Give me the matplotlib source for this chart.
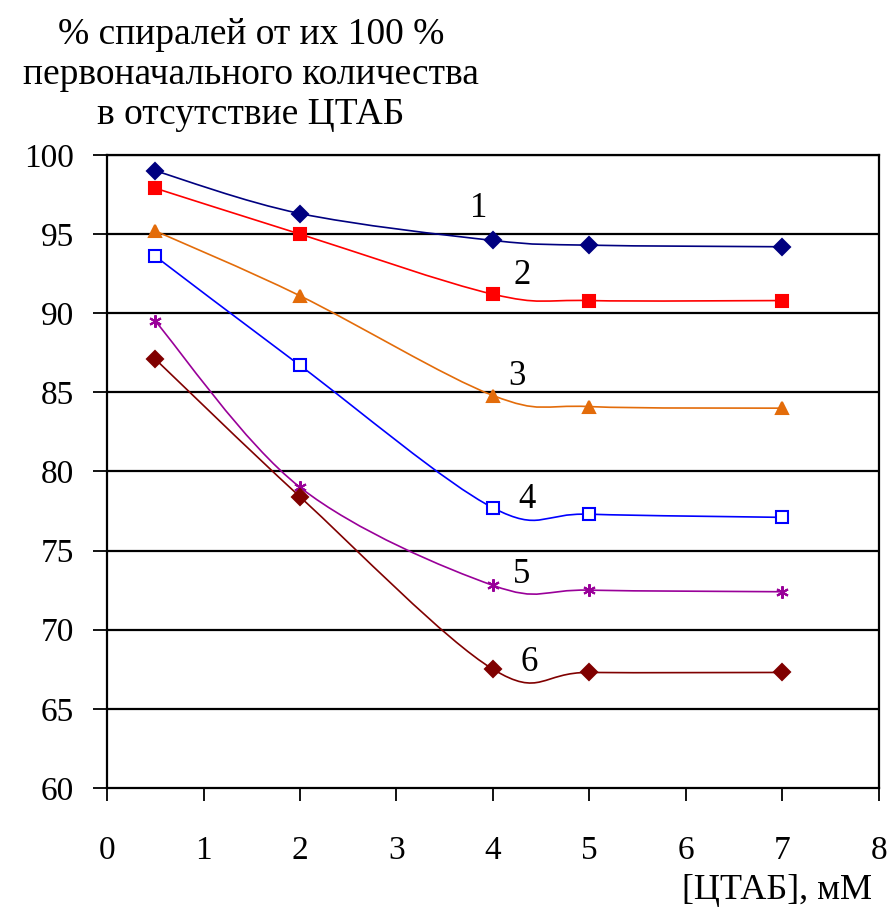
import matplotlib
matplotlib.use("Agg")
import matplotlib.pyplot as plt
from matplotlib.path import Path
from matplotlib.patches import PathPatch
import numpy as np

plt.rcParams['font.family'] = ['Liberation Serif', 'DejaVu Serif']

# концентрация ЦТАБ, мМ
x = [0.5, 2, 4, 5, 7]
# % спиралей для кривых 1-6
s1 = [99.0, 96.3, 94.6, 94.3, 94.2]
s2 = [97.9, 95.0, 91.2, 90.8, 90.8]
s3 = [95.2, 91.1, 84.8, 84.1, 84.0]
s4 = [93.6, 86.7, 77.7, 77.3, 77.1]
s5 = [89.5, 79.0, 72.8, 72.5, 72.4]
s6 = [87.1, 78.4, 67.5, 67.3, 67.3]
names = ['1', '2', '3', '4', '5', '6']
label_pos = [(3.85, 96.6), (4.3, 92.4), (4.25, 86.0), (4.35, 78.2), (4.3, 73.5), (4.37, 67.9)]

series = [s1, s2, s3, s4, s5, s6]
colors = ['#000080', '#FF0000', '#E36C0A', '#0000FF', '#990099', '#800000']
markers = ['D', 's', '^', 's', (6, 2, 0), 'D']
faces = ['#000080', '#FF0000', '#E36C0A', 'white', '#990099', '#800000']
msizes = [8, 9, 9, 8, 9, 8]


def smooth_path(xs, ys):
    # сглаживание как в Excel (кубические кривые Безье)
    p = np.column_stack([xs, ys]).astype(float)
    n = len(p)
    verts = [p[0]]
    codes = [Path.MOVETO]
    for i in range(n - 1):
        p0 = p[i - 1] if i > 0 else p[i]
        p3 = p[i + 2] if i + 2 < n else p[i + 1]
        c1 = p[i] + (p[i + 1] - p0) / 6
        c2 = p[i + 1] - (p3 - p[i]) / 6
        verts += [c1, c2, p[i + 1]]
        codes += [Path.CURVE4] * 3
    return Path(verts, codes)


fig = plt.figure(figsize=(8.91, 9.10), dpi=100)
ax = fig.add_axes([0.1201, 0.1341, 0.8664, 0.6956])

for yv in range(65, 101, 5):
    ax.axhline(yv, color='black', lw=1.6, zorder=1)

for s, c, m, fc, ms in zip(series, colors, markers, faces, msizes):
    ax.add_patch(PathPatch(smooth_path(x, s), fill=False, edgecolor=c, lw=1.2, zorder=2))
    ax.plot(x, s, ls='none', marker=m, color=c, markerfacecolor=fc,
            markeredgecolor=c, markersize=ms, markeredgewidth=1.5, zorder=3)

for name, (lx, ly) in zip(names, label_pos):
    ax.text(lx, ly, name, fontsize=25, ha='center', va='center')

ax.set_xlim(0, 8)
ax.set_ylim(60, 100)
ax.set_xticks(range(0, 9))
ax.set_yticks(range(60, 101, 5))
ax.tick_params(axis='both', direction='out', width=1.3, labelsize=24, color='black')
ax.tick_params(axis='x', length=9, pad=25)
ax.tick_params(axis='y', length=10, pad=14)
for sp in ax.spines.values():
    sp.set_linewidth(1.6)
    sp.set_color('black')

fig.text(0.2817, 0.9516, '% спиралей от их 100 %', fontsize=27, ha='center', va='baseline')
fig.text(0.2817, 0.9077, 'первоначального количества', fontsize=27, ha='center', va='baseline')
fig.text(0.2817, 0.8637, 'в отсутствие ЦТАБ', fontsize=27, ha='center', va='baseline')
fig.text(0.9787, 0.0121, '[ЦТАБ], мМ', fontsize=26, ha='right', va='baseline')

fig.savefig('out.png', dpi=100)
